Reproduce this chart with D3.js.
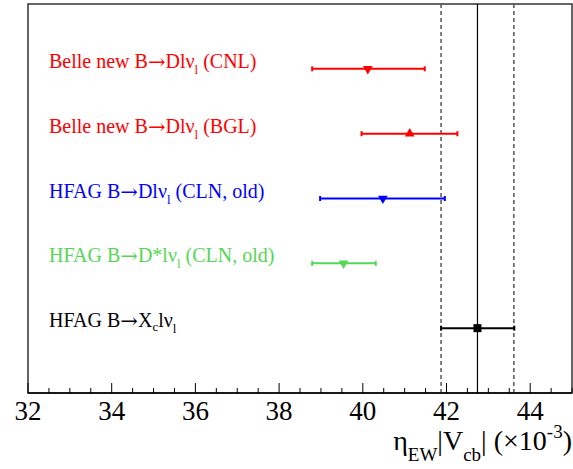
<!DOCTYPE html>
<html><head><meta charset="utf-8">
<script src="https://cdn.jsdelivr.net/npm/d3@7"></script>
<style>body{margin:0;background:#fff}svg{display:block}</style>
</head><body>
<svg id="c" width="573" height="469"></svg>
<script>
// Data
const labelHeads = ["Belle new B", "Belle new B", "HFAG B", "HFAG B", "HFAG B"];
const labelParts = ["Dlν", "Dlν", "Dlν", "D*lν", "X"];
const labelTails = [" (CNL)", " (BGL)", " (CLN, old)", " (CLN, old)", ""];
const centers = [40.12, 41.12, 40.48, 39.54, 42.74];
const lows = [38.79, 39.97, 38.98, 38.79, 41.87];
const highs = [41.48, 42.26, 41.96, 40.31, 43.62];
const colors = ["#ff0000", "#ff0000", "#0000ff", "#55d655", "#000000"];
const markers = ["down", "up", "down", "down", "square"];
const refCenter = 42.74, refLow = 41.87, refHigh = 43.61;
const majorTicks = [32, 34, 36, 38, 40, 42, 44];

const SERIF = "'Liberation Serif','Times New Roman',serif";
const svg = d3.select("#c");
const L = 28, R = 572, T = 4, B = 393;
const x = d3.scaleLinear().domain([32, 45]).range([L, L + 13 * 41.85]);
const y = d3.scaleLinear().domain([0, 6]).range([T, B]);

// frame
svg.append("rect").attr("x", L).attr("y", T).attr("width", R - L).attr("height", B - T)
  .attr("fill", "none").attr("stroke", "#333").attr("stroke-width", 1.5);

// reference lines
svg.append("line").attr("x1", x(refCenter)).attr("x2", x(refCenter)).attr("y1", T).attr("y2", B)
  .attr("stroke", "#000").attr("stroke-width", 1.2);
[refLow, refHigh].forEach(v => svg.append("line").attr("x1", x(v)).attr("x2", x(v)).attr("y1", T).attr("y2", B)
  .attr("stroke", "#555").attr("stroke-width", 1.5).attr("stroke-dasharray", "4,3"));

// axis
const minor = d3.range(32, 45.01, 0.5);
svg.append("g").selectAll("line").data(minor).join("line")
  .attr("x1", d => x(d)).attr("x2", d => x(d)).attr("y1", B)
  .attr("y2", d => Math.abs(d % 2) < 1e-6 ? B - 10 : B - 5)
  .attr("stroke", "#000").attr("stroke-width", 1);
svg.append("line").attr("x1", L).attr("x2", R).attr("y1", B).attr("y2", B).attr("stroke", "#000").attr("stroke-width", 1.5);
svg.append("g").selectAll("text").data(majorTicks).join("text")
  .attr("x", d => x(d)).attr("y", 420).attr("text-anchor", "middle")
  .attr("font-family", SERIF).attr("font-size", 27).text(d => d);

// axis title
const at = svg.append("text").attr("x", 572).attr("y", 450).attr("text-anchor", "end")
  .attr("font-family", SERIF).attr("font-size", 28);
at.append("tspan").text("η");
at.append("tspan").attr("font-size", 19).attr("dy", 11).text("EW");
at.append("tspan").attr("dy", -11).text("|V");
at.append("tspan").attr("font-size", 19).attr("dy", 11).text("cb");
at.append("tspan").attr("dy", -11).text("| (×10");
at.append("tspan").attr("font-size", 19).attr("dy", -12).text("-3");
at.append("tspan").attr("dy", 12).text(")");

// rows
labelHeads.forEach((lab, i) => {
  const yy = y(i + 1), c = colors[i];
  const t = svg.append("text").attr("x", 49).attr("y", yy - 1)
    .attr("font-family", SERIF).attr("font-size", 20).attr("fill", c);
  t.append("tspan").text(lab);
  t.append("tspan").attr("font-family", "'DejaVu Serif',serif").attr("font-size", 21).attr("dy", 1).text("→");
  if (i === 4) {
    t.append("tspan").attr("dy", -1).text(labelParts[i]);
    t.append("tspan").attr("font-size", 13).attr("dy", 4).text("c");
    t.append("tspan").attr("dy", -4).text("lν");
    t.append("tspan").attr("font-size", 13).attr("dy", 6).text("l");
  } else {
    t.append("tspan").attr("dy", -1).text(labelParts[i]);
    t.append("tspan").attr("font-size", 13).attr("dy", 6).text("l");
    t.append("tspan").attr("dy", -6).text(labelTails[i]);
  }
  svg.append("line").attr("x1", x(lows[i])).attr("x2", x(highs[i])).attr("y1", yy).attr("y2", yy)
    .attr("stroke", c).attr("stroke-width", 2);
  [lows[i], highs[i]].forEach(v => svg.append("line").attr("x1", x(v)).attr("x2", x(v))
    .attr("y1", yy - 2.5).attr("y2", yy + 2.5).attr("stroke", c).attr("stroke-width", 2));
  const cx = x(centers[i]);
  const sym = markers[i] === "square" ? d3.symbol(d3.symbolSquare, 64) : d3.symbol(d3.symbolTriangle, 40);
  const rot = markers[i] === "down" ? 180 : 0;
  svg.append("path").attr("d", sym()).attr("fill", c)
    .attr("transform", `translate(${cx},${yy}) rotate(${rot})`);
});
</script>
</body></html>
